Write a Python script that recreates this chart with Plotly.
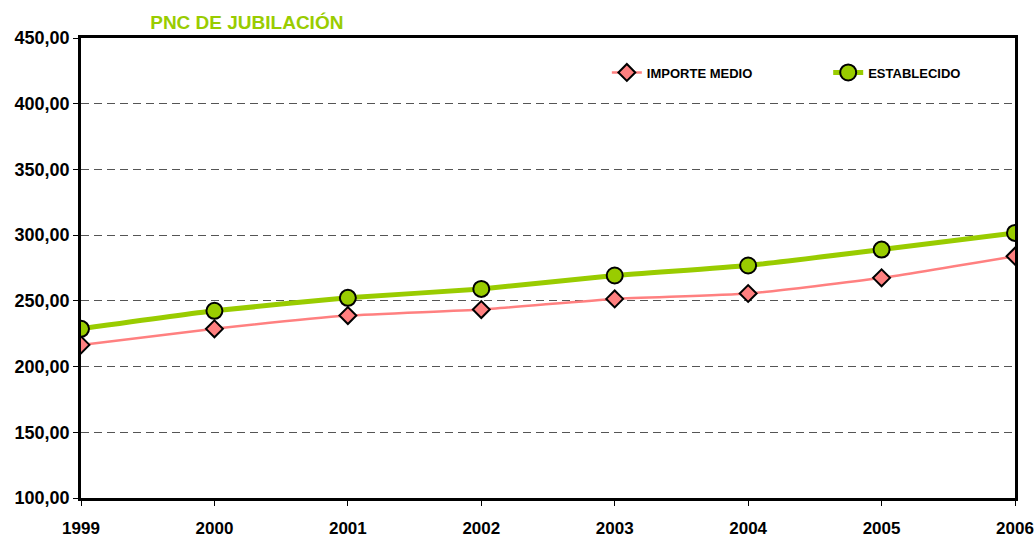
import plotly.graph_objects as go

years = ['1999', '2000', '2001', '2002', '2003', '2004', '2005', '2006']
importe_medio = [216.5, 228.7, 238.8, 243.4, 251.5, 255.6, 267.5, 284.0]
establecido = [228.7, 242.4, 252.3, 259.1, 269.3, 276.9, 289.0, 301.7]
y_ticks = [100, 150, 200, 250, 300, 350, 400, 450]
y_labels = ['100,00', '150,00', '200,00', '250,00', '300,00', '350,00', '400,00', '450,00']

fnt = 'Liberation Sans, Arial, sans-serif'

fig = go.Figure()
fig.add_trace(go.Scatter(
    name='IMPORTE MEDIO', x=years, y=importe_medio, mode='lines+markers',
    line=dict(color='#FF8080', width=2.5, shape='spline', smoothing=0.5),
    marker=dict(symbol='diamond', size=13, color='#FF8080', line=dict(color='black', width=2)),
    legend='legend',
))
fig.add_trace(go.Scatter(
    name='ESTABLECIDO', x=years, y=establecido, mode='lines+markers',
    line=dict(color='#99CC00', width=5, shape='spline', smoothing=0.5),
    marker=dict(symbol='circle', size=16, color='#99CC00', line=dict(color='black', width=2)),
    legend='legend2',
))

fig.update_xaxes(
    type='category', range=[0, 7], showline=True, linecolor='black', linewidth=2.5,
    mirror=True, ticks='outside', ticklen=5, tickcolor='black', showgrid=False,
    automargin=False, ticklabelstandoff=8,
    tickfont=dict(family=fnt, size=17, color='black', weight='bold'),
)
fig.update_yaxes(
    range=[100, 450], tickvals=y_ticks, ticktext=y_labels, showline=True,
    linecolor='black', linewidth=2.5, mirror=True, ticks='outside', ticklen=5,
    tickcolor='black', showgrid=True, gridcolor='#555555', griddash='8px,5px',
    gridwidth=1, zeroline=False, automargin=False,
    tickfont=dict(family=fnt, size=18, color='black', weight='bold'),
)

legend_font = dict(family=fnt, size=13, color='black', weight='bold')

fig.update_layout(
    width=1036, height=538, showlegend=True,
    margin=dict(l=81, r=21, t=38, b=40, autoexpand=False),
    plot_bgcolor='white', paper_bgcolor='white',
    title=dict(text='<b>PNC DE JUBILACIÓN</b>', x=0.145, xanchor='left', y=0.959, yanchor='middle',
               font=dict(family=fnt, size=19, color='#99CC00')),
    legend=dict(x=0.563, xanchor='left', y=0.925, yanchor='middle',
                bgcolor='rgba(0,0,0,0)', font=legend_font),
    legend2=dict(x=0.800, xanchor='left', y=0.925, yanchor='middle',
                 bgcolor='rgba(0,0,0,0)', font=legend_font),
)

# drop the default page margin so the figure fills the window exactly
fig.write_html("out.html", config={'displayModeBar': False},
               post_script="document.body.style.margin='0';")
